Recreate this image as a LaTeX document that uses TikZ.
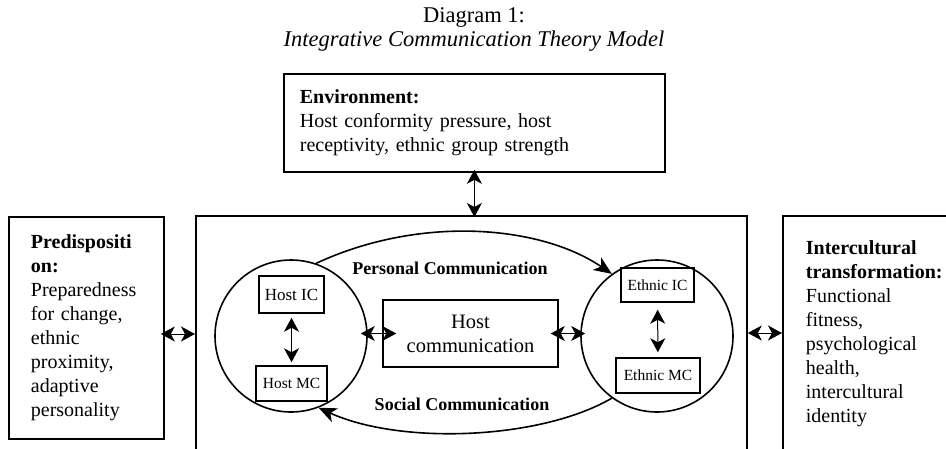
\documentclass[tikz,border=0pt]{standalone}
\usepackage{fontspec}
\setmainfont{Liberation Serif}
\usetikzlibrary{arrows.meta}
\tikzset{
	panel/.style={draw, line width=1.8pt, inner ysep=0pt, align=left, font=\fontsize{20}{24}\selectfont},
	smallbox/.style={draw, line width=1.5pt, inner sep=0pt},
	circ/.style={draw, circle, line width=1.6pt, minimum size=152pt, inner sep=0pt},
	both/.style={{Stealth[length=14pt,width=15pt,inset=4pt]}-{Stealth[length=14pt,width=15pt,inset=4pt]}, line width=1pt},
	flow/.style={-{Stealth[length=18pt,width=15pt,inset=5pt]}, line width=1.6pt},
	caption/.style={font=\bfseries\fontsize{18}{20}\selectfont}
}

\begin{document}
\begin{tikzpicture}[x=1pt, y=-1pt]
	\useasboundingbox (0,0) rectangle (946,448);
	\clip (0,0) rectangle (946,448);

	% title
	\node[font=\fontsize{22.5}{26}\selectfont] (title) at (474,17) {Diagram 1:};
	\node[font=\itshape\fontsize{22.5}{26}\selectfont] (subtitle) at (474,41) {Integrative Communication Theory Model};

	% outer boxes
	\node[panel, anchor=north west, text width=349pt, inner xsep=16pt, minimum height=98pt] (env) at (283,73)
		{\textbf{Environment:}\\Host conformity pressure, host\\receptivity, ethnic group strength};
	\node[panel, anchor=north west, minimum width=551pt, minimum height=260pt] (main) at (195,215) {};
	\node[panel, anchor=north west, text width=111pt, inner xsep=22pt, minimum height=222pt] (pred) at (8,216)
		{\textbf{Predispositi}\\\textbf{on:}\\Preparedness\\for change,\\ethnic\\proximity,\\adaptive\\personality};
	\node[panel, anchor=north west, text width=150pt, inner xsep=23pt, minimum height=235pt] (trans) at (782,215)
		{\textbf{Intercultural}\\\textbf{transformation:}\\Functional\\fitness,\\psychological\\health,\\intercultural\\identity};

	% inner parts
	\node[circ] (hostcirc) at (291,336) {};
	\node[circ] (ethcirc) at (657,336) {};
	\node[smallbox, minimum width=65pt, minimum height=37pt, font=\fontsize{17}{20}\selectfont] (hostic) at (291.5,294.5) {Host IC};
	\node[smallbox, minimum width=71pt, minimum height=35pt, font=\fontsize{15.5}{18}\selectfont] (hostmc) at (291.5,383.5) {Host MC};
	\node[smallbox, minimum width=73pt, minimum height=34pt, font=\fontsize{15.5}{18}\selectfont] (ethic) at (657.5,285) {Ethnic IC};
	\node[smallbox, minimum width=84pt, minimum height=35pt, font=\fontsize{15.5}{18}\selectfont] (ethmc) at (658,375.5) {Ethnic MC};
	\node[smallbox, minimum width=175pt, minimum height=67pt, align=center, font=\fontsize{20.5}{24}\selectfont] (hostcomm) at (470.5,333.5) {Host\\communication};

	% two-way links
	\draw[both, shorten <=-3pt, shorten >=-2pt] (env.south) -- (env.south |- main.north);
	\draw[both, shorten <=-4pt] (pred.east |- 0,334) -- (main.west |- 0,334);
	\draw[both] (main.east |- 0,333) -- (trans.west |- 0,333);
	\draw[both, shorten <=-7pt, shorten >=-14pt] (hostcomm.west -| hostcirc.east) -- (hostcomm.west);
	\draw[both, shorten <=-8pt, shorten >=-5pt] (hostcomm.east) -- (hostcomm.east -| ethcirc.west);
	\draw[both, shorten <=4pt, shorten >=3pt] (hostic) -- (hostmc);
	\draw[both, shorten <=7pt, shorten >=5pt] (ethic) -- (ethmc);

	% communication flows
	\draw[flow] (hostcirc.71) .. controls (420,215) and (540,225) .. (ethcirc.126);
	\draw[flow] (ethcirc.234) .. controls (540,440) and (400,445) .. (hostcirc.291);
	\node[caption] (personal) at (450,268) {Personal Communication};
	\node[caption] (social) at (462,404) {Social Communication};
\end{tikzpicture}
\end{document}
